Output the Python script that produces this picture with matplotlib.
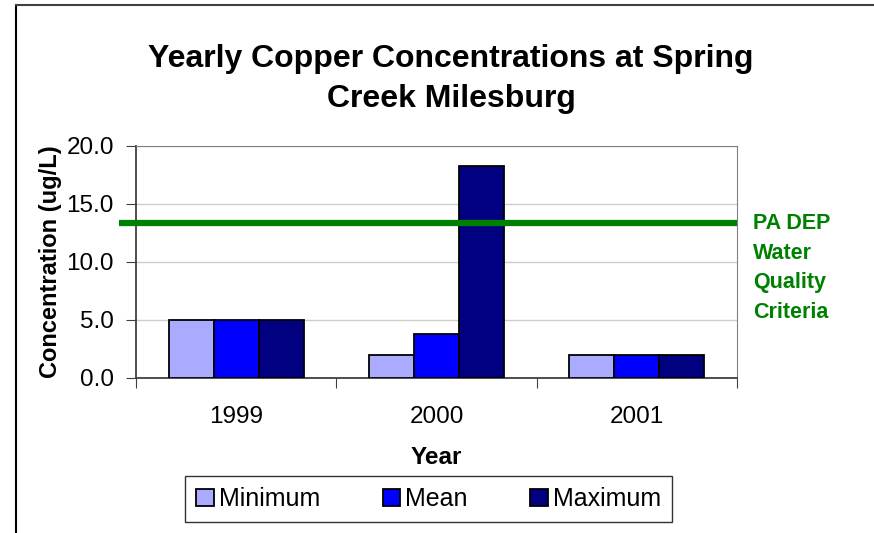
import matplotlib
matplotlib.use("Agg")
import matplotlib.pyplot as plt
import numpy as np
from matplotlib.lines import Line2D

plt.rcParams['font.family'] = ['Liberation Sans', 'DejaVu Sans']

years = ['1999', '2000', '2001']
minimum = [5.0, 2.0, 2.0]
mean = [5.0, 3.8, 2.0]
maximum = [5.0, 18.3, 2.0]
criteria = 13.4

series = [('Minimum', minimum, '#AAAAFF'),
          ('Mean', mean, '#0000FF'),
          ('Maximum', maximum, '#000080')]

fig = plt.figure(figsize=(8.74, 5.33), dpi=100)
ax = fig.add_axes([136/874, 1 - 378/533, (737 - 136)/874, (378 - 146)/533])

x = np.arange(len(years))
w = 0.225
for i, (name, vals, col) in enumerate(series):
    ax.bar(x + (i - 1) * w, vals, w, color=col, edgecolor='black',
           linewidth=1.3, label=name, zorder=3)

# criteria line, runs a little past the y axis on the left
ax.plot([-0.585, 2.5], [criteria, criteria], color='#008000', lw=4.5,
        solid_capstyle='butt', clip_on=False, zorder=4)
fig.text(753/874, 1 - 268/533, 'PA DEP\nWater\nQuality\nCriteria',
         color='#008000', fontsize=15.5, fontweight='bold', ha='left',
         va='center', linespacing=1.53)

ax.set_xlim(-0.5, 2.5)
ax.set_ylim(0, 20)
ax.set_yticks(np.arange(0, 20.1, 5))
ax.set_yticklabels(['%.1f' % v for v in np.arange(0, 20.1, 5)], fontsize=17.5)
ax.set_xticks([-0.5, 0.5, 1.5, 2.5])
ax.set_xticklabels([])
ax.set_xticks(x, minor=True)
ax.set_xticklabels(years, minor=True, fontsize=17.5)
ax.tick_params(axis='x', which='minor', length=0, pad=20)
ax.tick_params(axis='x', which='major', length=7, color='#404040')
ax.tick_params(axis='y', length=7, color='#404040', pad=9)
ax.grid(axis='y', color='#cccccc', lw=1, zorder=0)

for s in ['top', 'right']:
    ax.spines[s].set_color('#808080')
for s in ['left', 'bottom']:
    ax.spines[s].set_color('#404040')
    ax.spines[s].set_linewidth(1.3)

ax.set_xlabel('Year', fontsize=17.5, fontweight='bold', labelpad=13)
ax.set_ylabel('Concentration (ug/L)', fontsize=17, fontweight='bold', labelpad=3)

fig.text(451/874, 1 - 79/533, 'Yearly Copper Concentrations at Spring\nCreek Milesburg',
         ha='center', va='center', fontsize=23, fontweight='bold', linespacing=1.45)

leg = fig.legend(loc='center', bbox_to_anchor=(428.5/874, 1 - 499/533), ncol=3,
                 fontsize=18, frameon=True, fancybox=False, edgecolor='black',
                 handlelength=0.7, handleheight=0.7, handletextpad=0.2,
                 columnspacing=2.5, borderpad=0.45)
leg.get_frame().set_linewidth(1.0)

# outer chart border (top and left edges are all that show)
fig.add_artist(Line2D([16/874, 16/874], [0, 1 - 5/533], color='black', lw=1.5,
                      transform=fig.transFigure))
fig.add_artist(Line2D([16/874, 1], [1 - 5/533, 1 - 5/533], color='#404040', lw=1.5,
                      transform=fig.transFigure))

fig.savefig('out.png', dpi=100)
